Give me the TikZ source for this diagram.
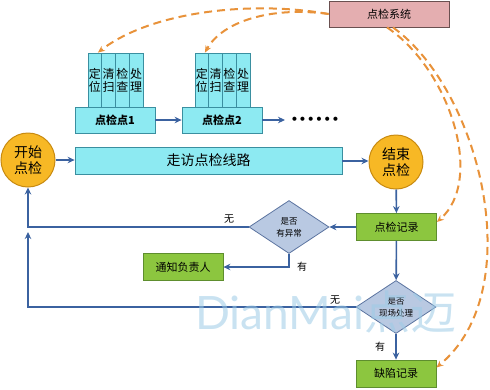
\documentclass[tikz,border=0pt]{standalone}
\usepackage{fontspec}
\setmainfont{Noto Sans CJK SC}
\newfontfamily\latofont{Lato}
\usetikzlibrary{arrows.meta,shapes.geometric}
\definecolor{cyanF}{HTML}{8DEAF2}
\definecolor{cyanD}{HTML}{3A8FA0}
\definecolor{circF}{HTML}{F7B825}
\definecolor{circD}{HTML}{C88A10}
\definecolor{grnF}{HTML}{8CC63F}
\definecolor{grnD}{HTML}{5E8E2E}
\definecolor{diaF}{HTML}{B9C9E2}
\definecolor{diaD}{HTML}{5C74A0}
\definecolor{pinkF}{HTML}{E4AEB0}
\definecolor{pinkD}{HTML}{6A5050}
\definecolor{blueA}{HTML}{3B62A0}
\definecolor{orgA}{HTML}{E8923A}
\definecolor{wmC}{HTML}{9CCBE6}
\tikzset{
  colbox/.style={draw=cyanD, fill=cyanF, line width=0.8pt, minimum width=13.75pt, minimum height=54pt, inner sep=0pt, align=center, font=\fontsize{12}{13}\selectfont},
  ptbox/.style={draw=cyanD, fill=cyanF, line width=0.8pt, minimum width=80pt, minimum height=26pt, inner sep=0pt, font=\bfseries\fontsize{11}{12}\selectfont},
  circbox/.style={circle, draw=circD, fill=circF, line width=1pt, minimum size=54pt, inner sep=0pt, align=center, font=\fontsize{14}{16}\selectfont},
  gbox/.style={draw=grnD, fill=grnF, line width=0.8pt, minimum width=80pt, minimum height=27pt, inner sep=0pt, font=\fontsize{11}{12}\selectfont},
  diabox/.style={diamond, draw=diaD, fill=diaF, line width=0.8pt, minimum width=80pt, minimum height=53pt, inner sep=0pt, aspect=1.5, align=center, font=\fontsize{8.5}{12}\selectfont},
  flow/.style={draw=blueA, line width=1.6pt, -{Stealth[length=7pt,width=6.5pt]}},
  plain/.style={draw=blueA, line width=1.6pt},
  dashflow/.style={draw=orgA, line width=2pt, dash pattern=on 8pt off 5pt, -{Stealth[length=7pt,width=6pt]}},
  lbl/.style={font=\fontsize{10}{11}\selectfont, inner sep=0pt}
}
\begin{document}
\begin{tikzpicture}[x=1pt,y=-1pt]
\useasboundingbox (0,0) rectangle (490,389);
% top system box
\node[draw=pinkD, fill=pinkF, line width=0.8pt, minimum width=120pt, minimum height=26pt, inner sep=0pt, font=\itshape\fontsize{11}{12}\selectfont] (sys) at (389,14) {点检系统};
% point 1 columns
\node[colbox] (c11) at (94.9,80) {定\\位};
\node[colbox] (c12) at (108.6,80) {清\\扫};
\node[colbox] (c13) at (122.4,80) {检\\查};
\node[colbox] (c14) at (136.1,80) {处\\理};
\node[ptbox] (p1) at (115,120) {点检点1};
% point 2 columns
\node[colbox] (c21) at (201.9,80) {定\\位};
\node[colbox] (c22) at (215.6,80) {清\\扫};
\node[colbox] (c23) at (229.4,80) {检\\查};
\node[colbox] (c24) at (243.1,80) {处\\理};
\node[ptbox] (p2) at (222,120) {点检点2};
\node[inner sep=0pt, font=\latofont\fontsize{11}{12}\selectfont] (dots) at (315,120) {•\,•\,•\,•\,•\,•};
% main row
\node[circbox] (start) at (28,160) {开始\\点检};
\node[draw=cyanD, fill=cyanF, line width=0.8pt, minimum width=267pt, minimum height=27pt, inner sep=0pt, font=\fontsize{14}{16}\selectfont] (route) at (208.5,160.5) {走访点检线路};
\node[circbox] (end) at (396,162) {结束\\点检};
\node[gbox] (rec) at (396.5,227) {点检记录};
\node[diabox] (d1) at (289,227) {是否\\有异常};
\node[gbox] (notify) at (183,267) {通知负责人};
\node[diabox] (d2) at (396,307) {是否\\现场处理};
\node[gbox] (def) at (396,373.5) {缺陷记录};
\coordinate (j) at (28,227);
\coordinate (bl) at (28,307);
\coordinate (dd) at (289,267);
% connectors
\draw[flow] (p1) -- (p2);
\draw[flow] (p2.east) -- (285,120) coordinate (p2e);
\draw[flow] (start) -- (route.west |- start);
\draw[flow] (route.east |- 0,161) -- (end.west |- 0,161);
\draw[flow] (end) -- (rec);
\draw[flow] (rec) -- (d1);
\draw[flow] (d1.west) -- (j) -- (start);
\draw[flow] (d2.west) -- (bl) -- ([yshift=-5pt]j);
\draw[flow] (d1.south) -- (dd) -- (notify.east);
\draw[flow] (rec) -- (d2);
\draw[flow] (d2) -- (def);
% labels
\node[lbl] at (229,219) {无};
\node[lbl] at (302,267) {有};
\node[lbl] at (335,300) {无};
\node[lbl] at (380,347) {有};
% dashed links
\draw[dashflow] (sys.west) .. controls (250,0) and (150,12) .. ([xshift=3pt]c11.north);
\draw[dashflow] (sys.west) .. controls (270,6) and (222,22) .. ([xshift=3pt]c21.north);
\draw[dashflow] ([xshift=-2pt]sys.south) .. controls (450,70) and (485,180) .. ([yshift=5pt]rec.east);
\draw[dashflow] ([xshift=4pt]sys.south) .. controls (480,90) and (530,290) .. ([yshift=6pt]def.east);
% watermark
\node[anchor=west, inner sep=0pt, text=wmC, opacity=0.55, font=\fontsize{46}{48}\selectfont] (wm) at (195,312) {{\latofont DianMai}点迈};
\end{tikzpicture}
\end{document}
